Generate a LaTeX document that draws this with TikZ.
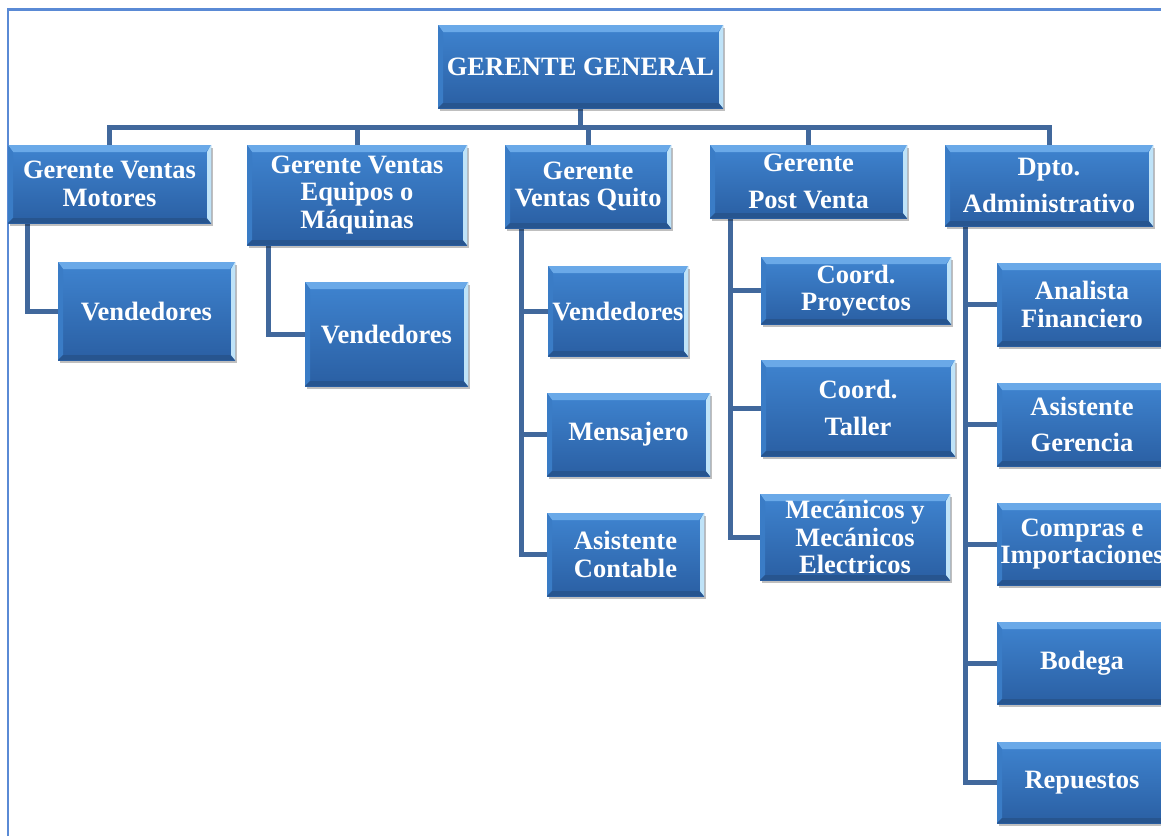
\documentclass[tikz,border=0pt]{standalone}
\usepackage{fontspec}
\setmainfont{Liberation Serif}
\usetikzlibrary{shadows,calc}
\definecolor{framecol}{HTML}{5A8AD5}
\definecolor{linkcol}{HTML}{41689C}
\definecolor{boxtop}{HTML}{3F84D0}
\definecolor{boxbot}{HTML}{2A5FA3}
\definecolor{bevtopc}{HTML}{6AA9E8}
\definecolor{bevright}{HTML}{BFE3F8}
\definecolor{bevbot}{HTML}{27558F}
\definecolor{bevleft}{HTML}{3A7CC6}
\pgfdeclarelayer{bg}
\pgfsetlayers{bg,main}
\tikzset{
  orgbox/.style={inner sep=0pt, align=center, text=white,
    font=\bfseries\fontsize{26.5}{27.5}\selectfont,
    top color=boxtop, bottom color=boxbot,
    drop shadow={shadow xshift=2pt, shadow yshift=-3pt, fill=black, opacity=0.25},
    path picture={
      \coordinate (ppa) at (path picture bounding box.north west);
      \coordinate (ppb) at (path picture bounding box.north east);
      \coordinate (ppc) at (path picture bounding box.south east);
      \coordinate (ppd) at (path picture bounding box.south west);
      \fill[bevtopc] (ppa) -- (ppb) -- ([shift={(-5,7)}]ppb) -- ([shift={(5,7)}]ppa) -- cycle;
      \fill[bevleft] (ppa) -- ([shift={(5,7)}]ppa) -- ([shift={(5,-5)}]ppd) -- (ppd) -- cycle;
      \fill[bevbot] (ppd) -- ([shift={(5,-5)}]ppd) -- ([shift={(-5,-5)}]ppc) -- (ppc) -- cycle;
      \fill[bevright] (ppb) -- ([shift={(-4,7)}]ppb) -- ([shift={(-4,-5)}]ppc) -- (ppc) -- cycle;
    }},
  link/.style={draw=linkcol, line width=5pt},
  framestyle/.style={draw=framecol, line width=2.5pt}
}
\newcommand\orgnode[6]{%
  \pgfmathsetmacro\orgW{#4-#2}\pgfmathsetmacro\orgH{#5-#3}%
  \pgfmathsetmacro\orgX{(#2+#4)/2}\pgfmathsetmacro\orgY{(#3+#5)/2}%
  \node[orgbox, minimum width=\orgW pt, minimum height=\orgH pt] (#1) at (\orgX,\orgY) {#6};}
\begin{document}
\begin{tikzpicture}[x=1pt,y=-1pt]
\useasboundingbox (0,0) rectangle (1161,836);
% level 0
\orgnode{gg}{438}{25}{723}{108}{GERENTE GENERAL}
% level 1
\orgnode{m}{8}{145}{211}{223}{Gerente Ventas\\Motores}
\orgnode{e}{247}{145}{467}{245}{Gerente Ventas\\Equipos o\\Máquinas}
\orgnode{q}{505}{145}{671}{228}{Gerente\\Ventas Quito}
\orgnode{p}{710}{145}{907}{218}{Gerente\\[9pt]Post Venta}
\orgnode{d}{945}{145}{1153}{226}{Dpto.\\[9pt]Administrativo}
% level 2
\orgnode{mv}{58}{262}{235}{360}{Vendedores}
\orgnode{ev}{305}{282}{468}{386}{Vendedores}
\orgnode{q1}{548}{266}{688}{356}{Vendedores}
\orgnode{q2}{547}{393}{710}{476}{Mensajero}
\orgnode{q3}{547}{513}{704}{596}{Asistente\\Contable}
\orgnode{p1}{761}{257}{951}{324}{Coord.\\Proyectos}
\orgnode{p2}{761}{360}{955}{456}{Coord.\\[9pt]Taller}
\orgnode{p3}{760}{494}{950}{580}{Mecánicos y\\Mecánicos\\Electricos}
\orgnode{d1}{997}{263}{1167}{346}{Analista\\Financiero}
\orgnode{d2}{997}{383}{1167}{466}{Asistente\\[9pt]Gerencia}
\orgnode{d3}{997}{503}{1167}{585}{Compras e\\Importaciones}
\orgnode{d4}{997}{622}{1167}{704}{Bodega}
\orgnode{d5}{997}{742}{1167}{823}{Repuestos}
\begin{pgfonlayer}{bg}
\fill[white] (0,0) rectangle (1161,836);
\coordinate (fa) at (8,836);
\coordinate (fb) at (8,9.5);
\coordinate (fc) at (1161,9.5);
\draw[framestyle] (fa) -- (fb) -- (fc);
\coordinate (bus) at (0,127);
\draw[link] (gg.south) -- (gg.south |- bus) -| (m.north);
\draw[link] (gg.south |- bus) -| (e.north);
\draw[link] (gg.south |- bus) -| (q.north);
\draw[link] (gg.south |- bus) -| (p.north);
\draw[link] (gg.south |- bus) -| (d.north);
\draw[link] ([xshift=20pt]m.south west) |- (mv.west);
\draw[link] ([xshift=22pt]e.south west) |- (ev.west);
\draw[link] ([xshift=17pt]q.south west) |- (q1.west);
\draw[link] ([xshift=17pt]q.south west) |- (q2.west);
\draw[link] ([xshift=17pt]q.south west) |- (q3.west);
\draw[link] ([xshift=21pt]p.south west) |- (p1.west);
\draw[link] ([xshift=21pt]p.south west) |- (p2.west);
\draw[link] ([xshift=21pt]p.south west) |- (p3.west);
\draw[link] ([xshift=21pt]d.south west) |- (d1.west);
\draw[link] ([xshift=21pt]d.south west) |- (d2.west);
\draw[link] ([xshift=21pt]d.south west) |- (d3.west);
\draw[link] ([xshift=21pt]d.south west) |- (d4.west);
\draw[link] ([xshift=21pt]d.south west) |- (d5.west);
\end{pgfonlayer}
\end{tikzpicture}
\end{document}
